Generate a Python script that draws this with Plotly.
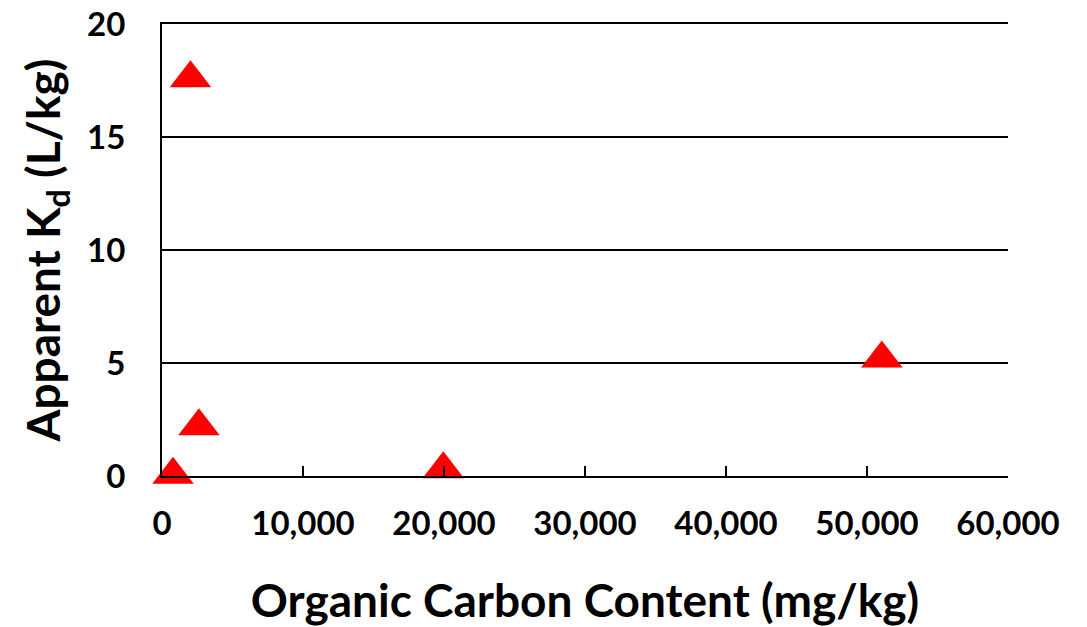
import plotly.graph_objects as go

organic_carbon = [780, 2020, 2620, 19950, 51050]
apparent_kd = [0.05, 17.6, 2.2, 0.3, 5.2]

x_ticks = [0, 10000, 20000, 30000, 40000, 50000, 60000]
x_labels = ["0", "10,000", "20,000", "30,000", "40,000", "50,000", "60,000"]
y_ticks = [0, 5, 10, 15, 20]

FONT = "Lato"

fig = go.Figure()
fig.add_trace(go.Scatter(
    x=organic_carbon, y=apparent_kd, mode="markers",
    marker=dict(symbol="triangle-up", size=36, color="#FF0000", line=dict(width=0)),
    cliponaxis=False, showlegend=False,
))

fig.update_layout(
    width=1079, height=619,
    margin=dict(l=154, r=79, t=16, b=151, autoexpand=False),
    plot_bgcolor="white", paper_bgcolor="white",
    font=dict(family=FONT, color="black", size=33, weight="bold"),
    xaxis=dict(
        range=[0, 60000], tickvals=x_ticks, ticktext=x_labels,
        showgrid=False, zeroline=False, automargin=False,
        showline=True, linecolor="black", linewidth=2, mirror=True,
        ticks="inside", ticklen=10, tickwidth=2, tickcolor="black",
        ticklabelstandoff=17, ticklabeloverflow="allow",
        tickfont=dict(family=FONT, size=33, color="black", weight="bold"),
        title=dict(text="<b>Organic Carbon Content (mg/kg)</b>",
                   font=dict(family=FONT, size=46, color="black", weight="bold"),
                   standoff=52),
    ),
    yaxis=dict(
        range=[0, 20], tickvals=y_ticks, automargin=False,
        showgrid=True, gridcolor="black", gridwidth=2,
        zeroline=False,
        showline=True, linecolor="black", linewidth=2,
        ticks="", ticklabelstandoff=28, ticklabeloverflow="allow",
        tickfont=dict(family=FONT, size=33, color="black", weight="bold"),
        title=dict(text="<b>Apparent K<sub>d</sub> (L/kg)</b>",
                   font=dict(family=FONT, size=46, color="black", weight="bold"),
                   standoff=12),
    ),
)

fig.write_html("out.html")
